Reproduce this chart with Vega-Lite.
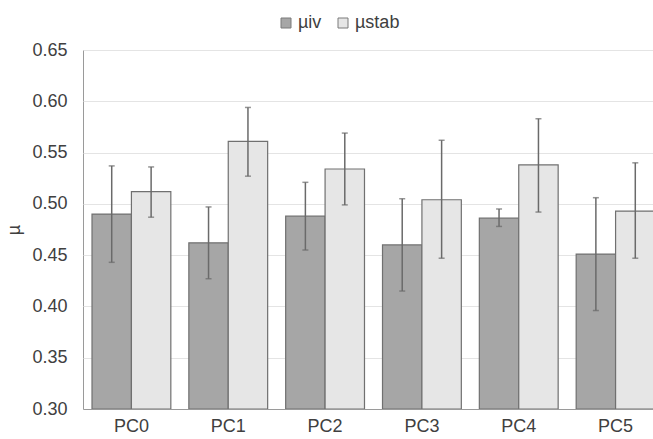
{
  "$schema": "https://vega.github.io/schema/vega-lite/v6.json",
  "width": 570,
  "height": 359,
  "autosize": {"type": "none"},
  "padding": {"left": 83, "top": 50, "right": 0, "bottom": 30},
  "background": "white",
  "config": {
    "font": "Liberation Sans",
    "view": {"stroke": "#9a9a9a", "strokeWidth": 1},
    "axis": {
      "labelFont": "Liberation Sans",
      "labelFontSize": 18,
      "labelColor": "#404040",
      "titleFont": "Liberation Sans",
      "titleFontSize": 18,
      "titleFontWeight": "normal",
      "titleColor": "#404040",
      "ticks": false
    }
  },
  "data": {
    "values": [
      {"pc": "PC0", "series": "µiv", "mean": 0.490, "lo": 0.443, "hi": 0.537},
      {"pc": "PC0", "series": "µstab", "mean": 0.512, "lo": 0.487, "hi": 0.536},
      {"pc": "PC1", "series": "µiv", "mean": 0.462, "lo": 0.427, "hi": 0.497},
      {"pc": "PC1", "series": "µstab", "mean": 0.561, "lo": 0.527, "hi": 0.594},
      {"pc": "PC2", "series": "µiv", "mean": 0.488, "lo": 0.455, "hi": 0.521},
      {"pc": "PC2", "series": "µstab", "mean": 0.534, "lo": 0.499, "hi": 0.569},
      {"pc": "PC3", "series": "µiv", "mean": 0.460, "lo": 0.415, "hi": 0.505},
      {"pc": "PC3", "series": "µstab", "mean": 0.504, "lo": 0.447, "hi": 0.562},
      {"pc": "PC4", "series": "µiv", "mean": 0.486, "lo": 0.478, "hi": 0.495},
      {"pc": "PC4", "series": "µstab", "mean": 0.538, "lo": 0.492, "hi": 0.583},
      {"pc": "PC5", "series": "µiv", "mean": 0.451, "lo": 0.396, "hi": 0.506},
      {"pc": "PC5", "series": "µstab", "mean": 0.493, "lo": 0.447, "hi": 0.540}
    ]
  },
  "encoding": {
    "x": {
      "field": "pc",
      "type": "nominal",
      "scale": {"range": [0, 581], "paddingInner": 0.186, "paddingOuter": 0.093},
      "axis": {"title": null, "labelAngle": 0, "domainColor": "#9a9a9a", "labelPadding": 8, "grid": false}
    },
    "xOffset": {
      "field": "series",
      "type": "nominal",
      "sort": ["µiv", "µstab"],
      "scale": {"paddingInner": 0, "paddingOuter": 0}
    }
  },
  "layer": [
    {
      "mark": {"type": "bar", "stroke": "#707070", "strokeWidth": 1.2, "clip": true},
      "encoding": {
        "y": {
          "field": "mean",
          "type": "quantitative",
          "scale": {"domain": [0.3, 0.65], "zero": false, "nice": false},
          "axis": {
            "title": "µ",
            "values": [0.3, 0.35, 0.4, 0.45, 0.5, 0.55, 0.6, 0.65],
            "format": ".2f",
            "gridColor": "#e4e4e4",
            "domain": false,
            "labelPadding": 16,
            "titlePadding": 8
          }
        },
        "y2": {"datum": 0.3},
        "color": {
          "field": "series",
          "type": "nominal",
          "scale": {"domain": ["µiv", "µstab"], "range": ["#a6a6a6", "#e6e6e6"]},
          "legend": {
            "orient": "none",
            "legendX": 194,
            "legendY": -36,
            "direction": "horizontal",
            "title": null,
            "symbolType": "square",
            "symbolSize": 100,
            "symbolStrokeColor": "#7a7a7a",
            "symbolStrokeWidth": 1,
            "labelFontSize": 18,
            "labelColor": "#404040",
            "labelFont": "Liberation Sans",
            "columnPadding": 12,
            "labelOffset": 3,
            "padding": 0,
            "symbolOffset": 0
          }
        }
      }
    },
    {
      "mark": {"type": "rule", "color": "#6a6a6a", "strokeWidth": 1.5},
      "encoding": {
        "y": {"field": "lo", "type": "quantitative"},
        "y2": {"field": "hi"}
      }
    },
    {
      "mark": {"type": "tick", "color": "#6a6a6a", "size": 6, "thickness": 1.5},
      "encoding": {"y": {"field": "lo", "type": "quantitative"}}
    },
    {
      "mark": {"type": "tick", "color": "#6a6a6a", "size": 6, "thickness": 1.5},
      "encoding": {"y": {"field": "hi", "type": "quantitative"}}
    }
  ]
}
